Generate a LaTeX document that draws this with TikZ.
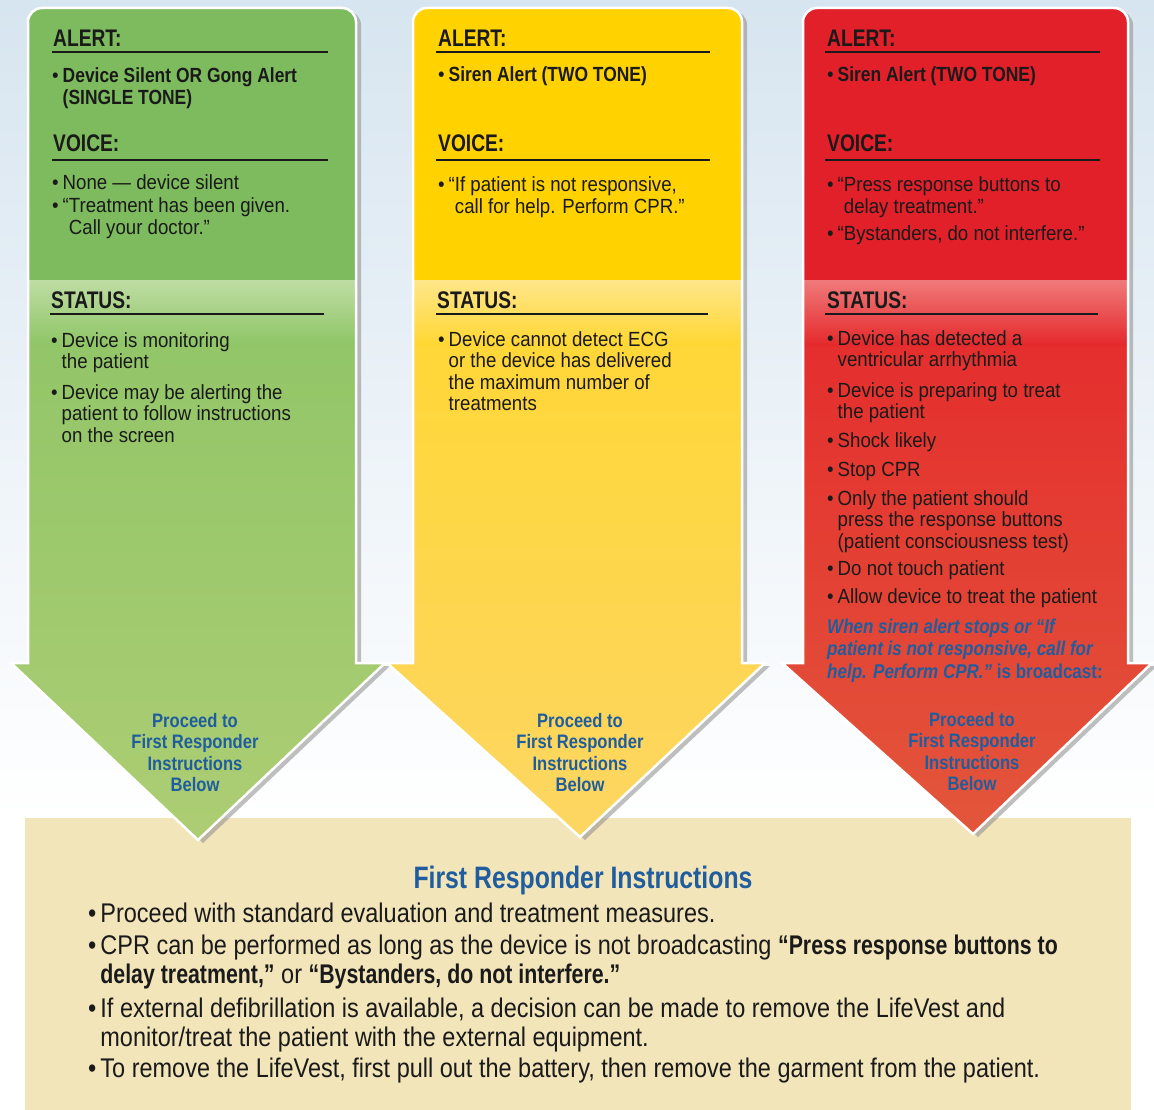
\documentclass[tikz,border=0pt]{standalone}
\usepackage{fontspec}
\setmainfont{Liberation Sans}[FakeStretch=0.8]
\newfontfamily\cardfont{Liberation Sans}[Ligatures=TeX,FakeStretch=0.91]
\newfontfamily\itemfont{Liberation Sans}[Ligatures=TeX,FakeStretch=0.85]
\newfontfamily\boxfont{Liberation Sans}[Ligatures=TeX,FakeStretch=0.87]
\newfontfamily\boxbold{Liberation Sans}[Ligatures=TeX,FakeStretch=0.79]
\usetikzlibrary{positioning}

\definecolor{ink}{HTML}{1A1A1A}
\definecolor{fblue}{HTML}{1F5D9E}
\definecolor{bgblue}{HTML}{D7E5F0}
\definecolor{boxfill}{HTML}{F3E5BA}
\definecolor{gtop}{HTML}{7DBB5E}
\definecolor{gband}{HTML}{BEDDA3}
\definecolor{gmid}{HTML}{8FC567}
\definecolor{ghead}{HTML}{ADCD73}
\definecolor{ytop}{HTML}{FFD200}
\definecolor{yband}{HTML}{FFE68A}
\definecolor{ymid}{HTML}{FFD732}
\definecolor{yhead}{HTML}{FDD663}
\definecolor{rtop}{HTML}{E1202A}
\definecolor{rband}{HTML}{F07A7A}
\definecolor{rmid}{HTML}{E4292C}
\definecolor{rhead}{HTML}{E3563B}

\newcommand{\arrowpath}[6]{(#5,#6) -- (#3,663) -- (#1,663) [rounded corners=14] -- (#1,8) -- (#2,8) [sharp corners] -- (#2,663) -- (#4,663) -- cycle}
\newcommand{\lowerpath}[6]{(#5,#6) -- (#3,663) -- (#1,663) -- (#1,280) -- (#2,280) -- (#2,663) -- (#4,663) -- cycle}
\newcommand{\blist}[1]{\begin{tabular}[t]{@{}l@{\hspace{4pt}}l@{}}#1\end{tabular}}
\newcommand{\clist}[1]{\begin{tabular}[t]{@{}c@{}}#1\end{tabular}}
\newcommand{\llist}[1]{\begin{tabular}[t]{@{}l@{}}#1\end{tabular}}
\newcommand{\ib}[1]{{\itemfont\bfseries #1}}
\newcommand{\bb}[1]{{\boxbold\bfseries #1}}

\begin{document}
\begin{tikzpicture}[x=1pt,y=-1pt,
	hd/.style={anchor=base west,inner sep=0pt,font=\fontsize{24}{26}\selectfont\bfseries,text=ink},
	txt/.style={anchor=base west,inner sep=0pt,font=\cardfont\fontsize{20.5}{21.5}\selectfont,text=ink},
	go/.style={anchor=base,inner sep=0pt,font=\itemfont\fontsize{19.5}{21.5}\selectfont\bfseries,text=fblue},
	big/.style={anchor=base west,inner sep=0pt,font=\boxfont\fontsize{27}{28.5}\selectfont,text=ink},
	rule/.style={draw=ink,line width=1.6pt},
	rim/.style={draw=white,line width=2.5pt},
	drop/.style={fill=black!45,opacity=.55}]
	\useasboundingbox (0,0) rectangle (1154,1110);
	\shade[top color=bgblue,bottom color=white] (0,0) rectangle (1154,820);
	\fill[boxfill] (25,818) rectangle (1131,1110);

	\fill[drop,shift={(5,3)}] \arrowpath{28}{356}{11}{385}{198}{840};
	\fill[gtop] \arrowpath{28}{356}{11}{385}{198}{840};
	\shade[top color=gmid,bottom color=ghead] \lowerpath{28}{356}{11}{385}{198}{840};
	\shade[top color=gband,bottom color=gmid] (28,280) rectangle (356,345);
	\draw[rim] \arrowpath{28}{356}{11}{385}{198}{840};

	\fill[drop,shift={(5,3)}] \arrowpath{413}{742}{387}{765}{580}{837};
	\fill[ytop] \arrowpath{413}{742}{387}{765}{580}{837};
	\shade[top color=ymid,bottom color=yhead] \lowerpath{413}{742}{387}{765}{580}{837};
	\shade[top color=yband,bottom color=ymid] (413,280) rectangle (742,345);
	\draw[rim] \arrowpath{413}{742}{387}{765}{580}{837};

	\fill[drop,shift={(5,3)}] \arrowpath{803}{1128}{782}{1152}{973}{834};
	\fill[rtop] \arrowpath{803}{1128}{782}{1152}{973}{834};
	\shade[top color=rmid,bottom color=rhead] \lowerpath{803}{1128}{782}{1152}{973}{834};
	\shade[top color=rband,bottom color=rmid] (803,280) rectangle (1128,345);
	\draw[rim] \arrowpath{803}{1128}{782}{1152}{973}{834};

	\node[hd] (galert) at (53,47) {ALERT:};
	\draw[rule] (52,52) -- (328,52);
	\node[txt] (galertitem) at (52,83) {\blist{\textbullet & \ib{Device Silent OR Gong Alert}\\ & \ib{(SINGLE TONE)}}};
	\node[hd] (gvoice) at (53,152) {VOICE:};
	\draw[rule] (52,160) -- (328,160);
	\node[txt] (gvoiceitem) at (52,190) {\blist{\textbullet & None --- device silent\\[1.5pt] \textbullet & ``Treatment has been given.\\ & \phantom{``}Call your doctor.''}};
	\node[hd] (gstatus) at (51,308) {STATUS:};
	\draw[rule] (50,314) -- (324,314);
	\node[txt] (gstatusitem) at (51,347) {\blist{\textbullet & Device is monitoring\\ & the patient\\[9pt] \textbullet & Device may be alerting the\\ & patient to follow instructions\\ & on the screen}};
	\node[go] (gproceed) at (195,727) {\clist{Proceed to\\First Responder\\Instructions\\Below}};

	\node[hd] (yalert) at (438,47) {ALERT:};
	\draw[rule] (436,52) -- (710,52);
	\node[txt] (yalertitem) at (438,82) {\blist{\textbullet & \ib{Siren Alert (TWO TONE)}}};
	\node[hd] (yvoice) at (438,152) {VOICE:};
	\draw[rule] (436,160) -- (710,160);
	\node[txt] (yvoiceitem) at (438,192) {\blist{\textbullet & ``If patient is not responsive,\\ & \phantom{``}call for help. Perform CPR.''}};
	\node[hd] (ystatus) at (437,308) {STATUS:};
	\draw[rule] (436,314) -- (708,314);
	\node[txt] (ystatusitem) at (438,346) {\blist{\textbullet & Device cannot detect ECG\\ & or the device has delivered\\ & the maximum number of\\ & treatments}};
	\node[go] (yproceed) at (580,727) {\clist{Proceed to\\First Responder\\Instructions\\Below}};

	\node[hd] (ralert) at (827,47) {ALERT:};
	\draw[rule] (825,52) -- (1100,52);
	\node[txt] (ralertitem) at (827,82) {\blist{\textbullet & \ib{Siren Alert (TWO TONE)}}};
	\node[hd] (rvoice) at (827,152) {VOICE:};
	\draw[rule] (825,160) -- (1100,160);
	\node[txt] (rvoiceitem) at (827,192) {\blist{\textbullet & ``Press response buttons to\\ & \phantom{``}delay treatment.''\\[6pt] \textbullet & ``Bystanders, do not interfere.''}};
	\node[hd] (rstatus) at (827,308) {STATUS:};
	\draw[rule] (825,314) -- (1098,314);
	\node[txt] (rstatusitem) at (827,345) {\blist{\textbullet & Device has detected a\\ & ventricular arrhythmia\\[9pt] \textbullet & Device is preparing to treat\\ & the patient\\[7pt] \textbullet & Shock likely\\[8pt] \textbullet & Stop CPR\\[7pt] \textbullet & Only the patient should\\ & press the response buttons\\ & (patient consciousness test)\\[6pt] \textbullet & Do not touch patient\\[6pt] \textbullet & Allow device to treat the patient}};
	\node[txt,text=fblue,font=\itemfont\fontsize{20}{22.5}\selectfont\bfseries] (rbroadcast) at (827,633) {\llist{\textit{When siren alert stops or ``If}\\ \textit{patient is not responsive, call for}\\ \textit{help. Perform CPR.''} is broadcast:}};
	\node[go] (rproceed) at (972,726) {\clist{Proceed to\\First Responder\\Instructions\\Below}};

	\node[anchor=base,inner sep=0pt,font=\fontsize{31}{33}\selectfont\bfseries,text=fblue] (frtitle) at (583,888) {First Responder Instructions};
	\node[big] (fritems) at (88,922) {\blist{\textbullet & Proceed with standard evaluation and treatment measures.\\[4pt] \textbullet & CPR can be performed as long as the device is not broadcasting \bb{``Press response buttons to}\\ & \bb{delay treatment,''} or \bb{``Bystanders, do not interfere.''}\\[6pt] \textbullet & If external defibrillation is available, a decision can be made to remove the LifeVest and\\ & monitor/treat the patient with the external equipment.\\[3pt] \textbullet & To remove the LifeVest, first pull out the battery, then remove the garment from the patient.}};
\end{tikzpicture}
\end{document}
